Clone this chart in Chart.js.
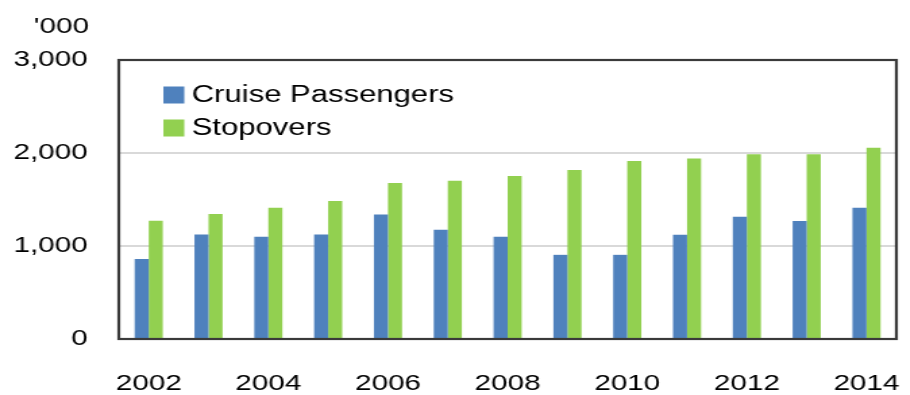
<!DOCTYPE html>
<html>
<head>
<meta charset="utf-8">
<script src="https://cdn.jsdelivr.net/npm/chart.js@4"></script>
<style>
  html, body { margin: 0; padding: 0; background: #fff; overflow: hidden; }
  /* source chart text is stretched horizontally, so draw narrow and stretch */
  #wrap { width: 674px; height: 395px; transform: scaleX(1.35); transform-origin: 0 0; }
</style>
</head>
<body>
<div id="wrap"><canvas id="barChart"></canvas></div>
<script>
const years = ["2002", "2003", "2004", "2005", "2006", "2007", "2008",
               "2009", "2010", "2011", "2012", "2013", "2014"];
const cruisePassengers = [860, 1125, 1100, 1125, 1340, 1175, 1100, 905, 905, 1120, 1315, 1270, 1410];
const stopovers = [1272, 1345, 1410, 1485, 1677, 1702, 1753, 1818, 1914, 1940, 1986, 1986, 2057];
const yTicks = [0, 1000, 2000, 3000];
const unitLabel = "'000";

const FONT = "'Liberation Sans', Arial, sans-serif";

// box round plot area, unit label and legend inside the plot
const decorPlugin = {
    id: "decor",
    afterDraw(chart) {
        const ctx = chart.ctx;
        const a = chart.chartArea;
        ctx.save();
        ctx.strokeStyle = "#3a3a3a";
        ctx.lineWidth = 2.2;
        ctx.strokeRect(a.left, a.top, a.right - a.left, a.bottom - a.top);

        ctx.fillStyle = "#000";
        ctx.font = "22px " + FONT;
        ctx.textAlign = "right";
        ctx.textBaseline = "middle";
        ctx.fillText(unitLabel, a.left - 22, 27);

        ctx.font = "23px " + FONT;
        ctx.textAlign = "left";
        chart.data.datasets.forEach((ds, i) => {
            const y = 95 + i * 33;
            ctx.fillStyle = ds.backgroundColor;
            ctx.fillRect(a.left + 33, y - 8.5, 15.5, 17);
            ctx.fillStyle = "#000";
            ctx.fillText(ds.label, a.left + 54, y + 1);
        });
        ctx.restore();
    }
};

function loadBarChart() {
    const ctx = document.getElementById("barChart").getContext("2d");

    new Chart(ctx, {
        type: "bar",
        data: {
            labels: years,
            datasets: [
                {
                    label: "Cruise Passengers",
                    data: cruisePassengers,
                    backgroundColor: "#4f81bd"
                },
                {
                    label: "Stopovers",
                    data: stopovers,
                    backgroundColor: "#92d050"
                }
            ]
        },
        options: {
            responsive: true,
            maintainAspectRatio: false,
            animation: false,
            layout: { padding: { top: 60, right: 10, left: 0, bottom: 0 } },
            datasets: {
                bar: { categoryPercentage: 0.47, barPercentage: 1.0 }
            },
            scales: {
                x: {
                    grid: { display: false, drawTicks: false },
                    border: { display: false },
                    ticks: {
                        autoSkip: false,
                        maxRotation: 0,
                        padding: 32,
                        color: "#000",
                        font: { family: FONT, size: 22 },
                        callback: (value, i) => (i % 2 === 0 ? years[i] : "")
                    },
                    afterFit: (scale) => {
                        scale.height = 56;
                        scale.paddingLeft = 0;
                        scale.paddingRight = 0;
                    }
                },
                y: {
                    min: 0,
                    max: 3000,
                    grid: { color: "#d9d9d9", lineWidth: 2, drawTicks: false },
                    border: { display: false },
                    afterBuildTicks: (scale) => { scale.ticks = yTicks.map(v => ({ value: v })); },
                    ticks: {
                        padding: 23,
                        color: "#000",
                        font: { family: FONT, size: 22 },
                        callback: (value) => value.toLocaleString("en-US")
                    },
                    afterFit: (scale) => {
                        scale.width = 88;
                        scale.paddingTop = 0;
                        scale.paddingBottom = 0;
                    }
                }
            },
            plugins: {
                legend: { display: false },
                tooltip: { enabled: false }
            }
        },
        plugins: [decorPlugin]
    });
}

document.addEventListener("DOMContentLoaded", loadBarChart);
</script>
</body>
</html>
